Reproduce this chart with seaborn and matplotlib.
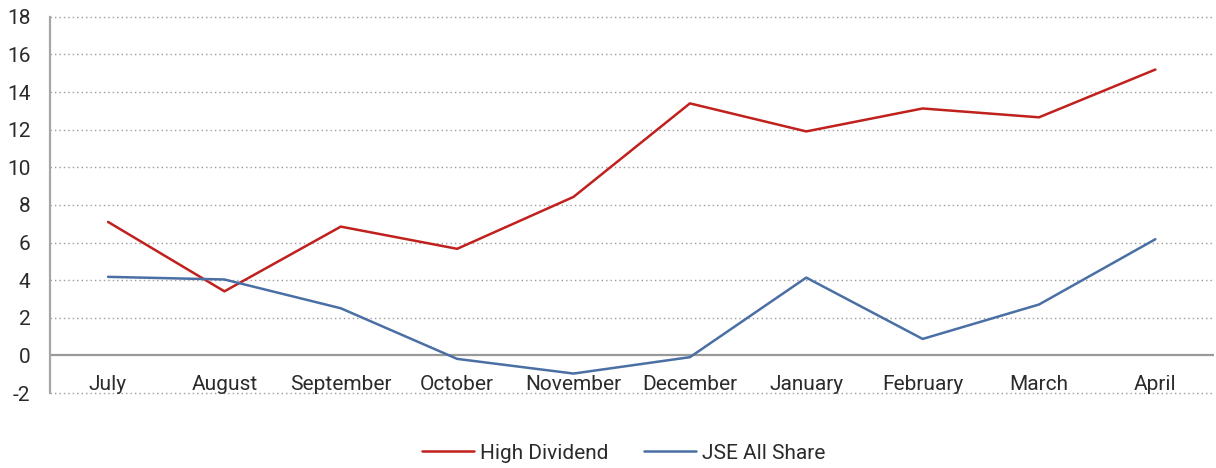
import pandas as pd
import seaborn as sns
import matplotlib.pyplot as plt

months = ['July', 'August', 'September', 'October', 'November', 'December',
          'January', 'February', 'March', 'April']
high_dividend = [7.1, 3.41, 6.85, 5.67, 8.43, 13.4, 11.91, 13.13, 12.66, 15.2]
jse_all_share = [4.18, 4.04, 2.51, -0.18, -0.96, -0.09, 4.14, 0.88, 2.71, 6.18]
y_ticks = [-2, 0, 2, 4, 6, 8, 10, 12, 14, 16, 18]

df = pd.DataFrame({
    'Month': months * 2,
    'Value': high_dividend + jse_all_share,
    'Series': ['High Dividend'] * len(months) + ['JSE All Share'] * len(months),
})

sns.set_style('white')
plt.rcParams['font.family'] = ['Roboto', 'DejaVu Sans']

fig = plt.figure(figsize=(12.16, 4.68), dpi=100)
ax = fig.add_axes([0.041, 0.160, 0.957, 0.804])

sns.lineplot(data=df, x='Month', y='Value', hue='Series', sort=False,
             palette={'High Dividend': '#C0211C', 'JSE All Share': '#4A6FA5'},
             linewidth=1.8, ax=ax)

ax.set_xlim(-0.5, len(months) - 0.5)
ax.set_ylim(-2, 18)
ax.set_yticks(y_ticks)
ax.set_yticklabels([str(t) for t in y_ticks])
ax.set_xlabel('')
ax.set_ylabel('')

# dotted gridlines, solid zero line
for t in y_ticks:
    if t != 0:
        ax.axhline(t, color='#9a9a9a', linestyle=(0, (1, 2.2)), linewidth=1,
                   zorder=0, clip_on=False)
ax.axhline(0, color='#999999', linewidth=1.6, zorder=1)

for s in ['top', 'right', 'bottom']:
    ax.spines[s].set_visible(False)
ax.spines['left'].set_color('#a6a6a6')
ax.spines['left'].set_linewidth(1.6)

ax.tick_params(axis='x', length=0, pad=-13, labelsize=15, colors='#2b2b2b')
ax.tick_params(axis='y', length=0, pad=14, labelsize=15, colors='#2b2b2b')

ax.legend(loc='center', bbox_to_anchor=(0.513, 0.032), bbox_transform=fig.transFigure,
          ncol=2, frameon=False, fontsize=15, handlelength=2.5, handletextpad=0.3,
          columnspacing=1.7, labelcolor='#2b2b2b')

fig.savefig('out.png', dpi=100)
